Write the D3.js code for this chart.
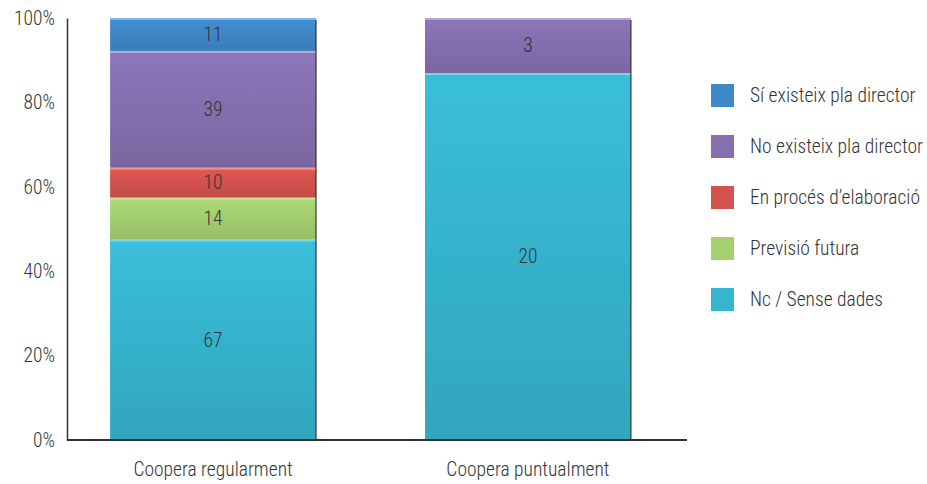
<!DOCTYPE html>
<html>
<head>
<meta charset="utf-8">
<script src="https://cdn.jsdelivr.net/npm/d3@7"></script>
<style>
  body { margin: 0; background: #fff; }
  text { font-family: "Roboto Condensed", "Liberation Sans Narrow", "Arial Narrow", "Liberation Sans", sans-serif; font-weight: 300; fill: #333; }
</style>
</head>
<body>
<svg id="chart"></svg>
<script>
const categories = ["Coopera regularment", "Coopera puntualment"];
const seriesNames = ["Nc / Sense dades", "Previsió futura", "En procés d’elaboració", "No existeix pla director", "Sí existeix pla director"];
const seriesColors = ["#36b5cf", "#a4d070", "#d4534e", "#8670b0", "#3f88c9"];
const nc = [67, 20];
const previsio = [14, 0];
const proces = [10, 0];
const noPla = [39, 3];
const siPla = [11, 0];
const yTicks = [0, 0.2, 0.4, 0.6, 0.8, 1];

const seriesValues = [nc, previsio, proces, noPla, siPla];
const rows = categories.map((c, i) => {
    const r = { cat: c };
    seriesNames.forEach((s, j) => r[s] = seriesValues[j][i]);
    return r;
});

const width = 927, height = 484;
const margin = { top: 18, left: 67, bottom: 44 };
const fs = 19.5;
const svg = d3.select('#chart').attr('width', width).attr('height', height);

const x = d3.scaleBand().domain(categories).range([66, 675]).paddingInner(0.346).paddingOuter(0.14);
const y = d3.scaleLinear().domain([0, 1]).range([height - margin.bottom, margin.top]);

const stack = d3.stack().keys(seriesNames).offset(d3.stackOffsetExpand);
const stacked = stack(rows);

// gradients
const defs = svg.append('defs');
seriesColors.forEach((c, i) => {
    const g = defs.append('linearGradient').attr('id', 'g' + i)
        .attr('x1', 0).attr('y1', 0).attr('x2', 0).attr('y2', 1);
    g.append('stop').attr('offset', '0%').attr('stop-color', d3.color(c).brighter(0.15));
    g.append('stop').attr('offset', '100%').attr('stop-color', d3.color(c).darker(0.25));
});

const layer = svg.append('g').selectAll('g').data(stacked).enter().append('g')
    .attr('fill', (d, i) => 'url(#g' + i + ')');

layer.selectAll('rect').data(d => d.map(v => Object.assign(v, { key: d.key })))
    .enter().filter(d => d[1] > d[0])
    .append('rect')
    .attr('x', d => x(d.data.cat))
    .attr('y', d => y(d[1]))
    .attr('width', x.bandwidth())
    .attr('height', d => y(d[0]) - y(d[1]));

// thin lighter line between segments
layer.selectAll('line.sep').data(d => d.filter(v => v[1] > v[0]))
    .enter().append('line')
    .attr('x1', d => x(d.data.cat)).attr('x2', d => x(d.data.cat) + x.bandwidth())
    .attr('y1', d => y(d[1]) + 1).attr('y2', d => y(d[1]) + 1)
    .attr('stroke', '#fff').attr('stroke-opacity', 0.35).attr('stroke-width', 2);

// right edge shadow
svg.append('g').selectAll('line').data(categories).enter().append('line')
    .attr('x1', d => x(d) + x.bandwidth()).attr('x2', d => x(d) + x.bandwidth())
    .attr('y1', y(1) + 2).attr('y2', y(0))
    .attr('stroke', '#222').attr('stroke-width', 1.5).attr('stroke-opacity', 0.7);

// value labels
layer.selectAll('text').data(d => d.filter(v => v[1] > v[0]))
    .enter().append('text')
    .attr('x', d => x(d.data.cat) + x.bandwidth() / 2)
    .attr('y', d => (y(d[0]) + y(d[1])) / 2)
    .attr('dy', '0.35em')
    .attr('text-anchor', 'middle')
    .attr('font-size', fs)
    .text(d => d.data[d.key]);

// axes
const yAxis = d3.axisLeft(y).tickValues(yTicks).tickFormat(d3.format('.0%')).tickSize(0).tickPadding(12);
const yg = svg.append('g').attr('transform', `translate(${margin.left},0)`).call(yAxis);
yg.select('.domain').attr('stroke', '#333').attr('stroke-width', 1.5);
yg.selectAll('text').attr('font-size', fs).attr('fill', '#333').style('font-family', null);

const xAxis = d3.axisBottom(x).tickSize(0).tickPadding(22);
const xg = svg.append('g').attr('transform', `translate(0,${y(0)})`).call(xAxis);
xg.select('.domain').remove();
xg.append('line').attr('x1', margin.left).attr('x2', 687)
    .attr('stroke', '#333').attr('stroke-width', 2);
xg.selectAll('text').attr('font-size', fs).attr('fill', '#333').style('font-family', null);

// legend
const legendOrder = seriesNames.slice().reverse();
const lg = svg.append('g').attr('transform', 'translate(711,84)');
const item = lg.selectAll('g').data(legendOrder).enter().append('g')
    .attr('transform', (d, i) => `translate(0,${i * 51})`);
item.append('rect').attr('width', 23).attr('height', 23)
    .attr('fill', d => seriesColors[seriesNames.indexOf(d)]);
item.append('text').attr('x', 39).attr('y', 11.5).attr('dy', '0.35em')
    .attr('font-size', fs).text(d => d);
</script>
</body>
</html>
